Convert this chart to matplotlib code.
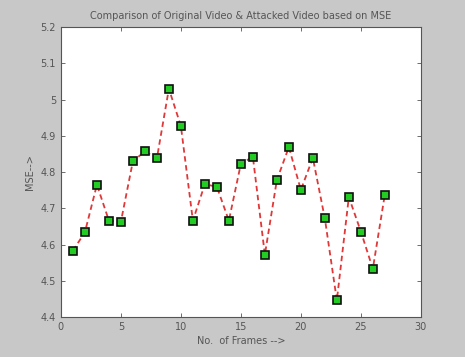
import matplotlib
matplotlib.use("Agg")
import matplotlib.pyplot as plt

frames = list(range(1, 28))
mse = [4.583, 4.634, 4.765, 4.666, 4.663, 4.830, 4.857, 4.838, 5.030, 4.927,
       4.666, 4.767, 4.759, 4.666, 4.823, 4.842, 4.572, 4.778, 4.869, 4.751,
       4.839, 4.672, 4.446, 4.731, 4.636, 4.533, 4.738]
xticks = [0, 5, 10, 15, 20, 25, 30]
yticks = [4.4, 4.5, 4.6, 4.7, 4.8, 4.9, 5.0, 5.1, 5.2]
ytick_labels = ["4.4", "4.5", "4.6", "4.7", "4.8", "4.9", "5", "5.1", "5.2"]

plt.rcParams['font.family'] = ['DejaVu Sans']
fig = plt.figure(figsize=(4.65, 3.57), dpi=100, facecolor="#c8c8c8")
ax = fig.add_axes([0.131, 0.112, 0.774, 0.812])
ax.set_facecolor("white")
ax.plot(frames, mse, linestyle="--", color="#e03838", linewidth=1.3,
        marker="s", markersize=6, markerfacecolor="#22cc22",
        markeredgecolor="#111111", markeredgewidth=1.2, dashes=(3, 2))
ax.set_xlim(0, 30)
ax.set_ylim(4.4, 5.2)
ax.set_xticks(xticks)
ax.set_yticks(yticks)
ax.set_yticklabels(ytick_labels)
ax.tick_params(direction="in", top=True, right=True, labelsize=7,
               colors="#555555", length=3, width=0.6)
for s in ax.spines.values():
    s.set_color("#555555")
    s.set_linewidth(0.8)
ax.set_title("Comparison of Original Video & Attacked Video based on MSE",
             fontsize=7, color="#555555", pad=6)
ax.set_xlabel("No.  of Frames -->", fontsize=7, color="#555555", labelpad=3)
ax.set_ylabel("MSE-->", fontsize=7, color="#555555", labelpad=4)
fig.savefig("out.png", dpi=100, facecolor=fig.get_facecolor())
